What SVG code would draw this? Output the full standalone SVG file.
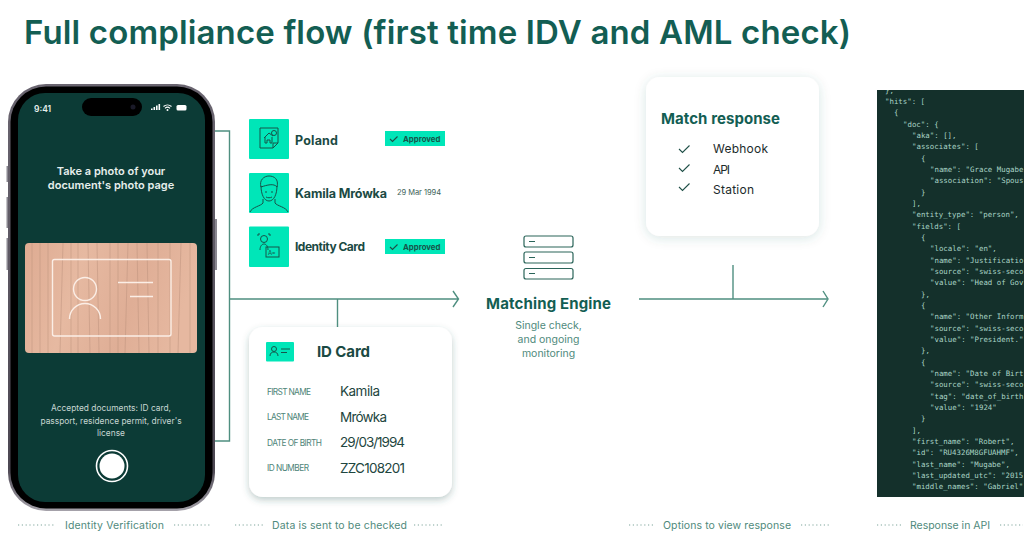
<svg xmlns="http://www.w3.org/2000/svg" width="1024" height="551" viewBox="0 0 1024 551">
<style>
text{font-family:"Inter","Liberation Sans",sans-serif}
.title{font-size:33px;font-weight:600;fill:#135e53}
.h{font-weight:700;fill:#1b4a43}
.g{fill:#00e6b8}
.lnk{fill:none;stroke:#4f8f80;stroke-width:1.4}
.foot{font-size:10.5px;fill:#4f8a7c}
.dots{stroke:#7fa59c;stroke-width:1.2;stroke-dasharray:1.2 2.6;fill:none}
.lab{font-size:8.3px;fill:#4e8478}
.val{font-size:13.5px;fill:#1e4640}
.ic{fill:none;stroke:#17544a;stroke-width:1}
.ok{font-size:7.8px;font-weight:700;fill:#17544a}
.chk{fill:none;stroke:#1f4f47;stroke-width:1.1}
.srv{fill:#fff;stroke:#2a6459;stroke-width:1.2}
.json{font-family:"DejaVu Sans Mono","Liberation Mono",monospace;font-size:7.4px;fill:#a9d4c6}
.ph{fill:#e6eeec;font-size:11px;font-weight:600;text-anchor:middle}
.ph2{fill:#c7d6d2;font-size:8.4px;text-anchor:middle}
.sub{font-size:10.5px;fill:#4f8a7c;text-anchor:middle}
.wood{stroke:#b98f7a;stroke-width:1;opacity:.45;fill:none}
</style>
<defs>
<linearGradient id="woodg" x1="0" y1="0" x2="1" y2="0.2">
<stop offset="0" stop-color="#deab92"/><stop offset=".35" stop-color="#e6b9a1"/><stop offset=".7" stop-color="#dfae96"/><stop offset="1" stop-color="#e6b8a0"/>
</linearGradient>
<linearGradient id="edge" x1="0" y1="0" x2="0" y2="1">
<stop offset="0" stop-color="#6a6570"/><stop offset=".9" stop-color="#4c4752"/><stop offset="1" stop-color="#a5a2aa"/>
</linearGradient>
<filter id="sh" x="-15%" y="-15%" width="130%" height="130%"><feDropShadow dx="0" dy="3" stdDeviation="3.500" flood-color="#2b5d52" flood-opacity=".3"/></filter>
<filter id="sh2" x="-20%" y="-20%" width="140%" height="140%"><feDropShadow dx="0" dy="2" stdDeviation="6" flood-color="#2b5d52" flood-opacity=".16"/></filter>
<clipPath id="jc"><rect x="877" y="90" width="147" height="407"/></clipPath>
<clipPath id="wc"><rect x="25" y="243" width="172" height="110" rx="4"/></clipPath>
</defs>
<rect width="1024" height="551" fill="#fff"/>
<text class="title" x="24" y="44" textLength="827" lengthAdjust="spacing">Full compliance flow (first time IDV and AML check)</text>

<g id="connectors">
<path class="lnk" d="M214 131H229.500V441H215"/>
<path class="lnk" d="M230 299H458M453 291L458.500 299L453 307"/>
<path class="lnk" d="M337.500 299V327"/>
<path class="lnk" d="M639 299H827M823 291L828 299L823 307"/>
<path class="lnk" d="M733 265V299"/>
</g>

<g id="phone">
<rect x="6.500" y="166" width="3" height="16" fill="#8a8790"/>
<rect x="6.500" y="197" width="3" height="31" fill="#8a8790"/>
<rect x="6.500" y="238" width="3" height="32" fill="#8a8790"/>
<rect x="214" y="219" width="3" height="51" fill="#8a8790"/>
<rect x="8" y="84" width="207" height="427" rx="38" fill="url(#edge)"/>
<rect x="10.500" y="86.500" width="202" height="422" rx="35.500" fill="#000"/>
<rect x="18" y="93" width="187" height="409" rx="27" fill="#0c3b36"/>
<rect x="82" y="98" width="60" height="18" rx="9" fill="#000"/>
<circle cx="133" cy="107" r="2.500" fill="#1a1a28"/>
<text x="34" y="112" font-size="8.500" font-weight="600" fill="#e6eeec">9:41</text>
<path d="M151 110h1.600v-1.500H151zM153.500 110h1.600v-3H153.500zM156 110h1.600v-4.500H156zM158.500 110h1.600v-6H158.500z" fill="#fff"/>
<path d="M163.500 106.500a6 6 0 0 1 8 0M165 108.300a3.600 3.600 0 0 1 5 0" fill="none" stroke="#fff" stroke-width="1.100"/><circle cx="167.500" cy="110" r="1" fill="#fff"/>
<rect x="176.500" y="105" width="10" height="5.500" rx="1.500" fill="#fff"/>
<text class="ph" x="111" y="175">Take a photo of your</text>
<text class="ph" x="111" y="189">document's photo page</text>
<rect x="25" y="243" width="172" height="110" rx="4" fill="url(#woodg)"/>
<g clip-path="url(#wc)">
<path class="wood" d="M40 243V353M63 243L60 353M78 243V353M97 243L99 353M128 243L125 353M137 243L139 353M158 243V353M181 243L178 353M48 243V353M110 243V353M170 243V353M32 243V353M71 243V353M88 243L90 353M118 243V353M147 243L149 353M190 243V353"/>
</g>
<rect x="52.500" y="259.500" width="118.500" height="76.500" rx="2" fill="none" stroke="#fbeee6" stroke-width="1.400"/>
<circle cx="85" cy="289" r="11.500" fill="none" stroke="#fbeee6" stroke-width="1.400"/>
<path d="M69.500 319a15.500 15.500 0 0 1 31 0" fill="none" stroke="#fbeee6" stroke-width="1.400"/>
<path d="M118 282.500H153M130 296.500H153" stroke="#fbeee6" stroke-width="1.400"/>
<text class="ph2" x="111" y="411">Accepted documents: ID card,</text>
<text class="ph2" x="111" y="424">passport, residence permit, driver's</text>
<text class="ph2" x="111" y="436">license</text>
<circle cx="112" cy="466" r="15.500" fill="none" stroke="#fff" stroke-width="1.600"/>
<circle cx="112" cy="466" r="12.500" fill="#fff"/>
</g>

<g id="row-poland">
<rect class="g" x="249" y="119" width="40" height="40" rx="1"/>
<path class="ic" d="M260 128h18v15l-5 5h-13zM273 148v-5h5"/>
<path class="ic" d="M264 138l5-5 4 3M265 137v6h2v-3h3v3h2v-6"/>
<circle class="ic" cx="274" cy="133" r="2.500"/>
<text class="h" x="295" y="144.500" font-size="12.500" textLength="43" lengthAdjust="spacing">Poland</text>
<rect class="g" x="385" y="131" width="60" height="15"/>
<path class="chk" d="M390 139l2.500 2.500 5-5"/>
<text class="ok" x="403" y="142">Approved</text>
</g>

<g id="row-name">
<rect class="g" x="249" y="173" width="40" height="40" rx="1"/>
<path class="ic" d="M250 212c2-5 11-6 13-9v-4M275 199v4c2 3 11 4 13 9"/>
<path class="ic" d="M261 186c0 8 3 15 8 15s8-7 8-15"/>
<path class="ic" d="M261 187c-2-7 3-11 8-11s10 3 8 11c-3-4-10-2-16 0zM265 192h2M271 192h2M266 197c2 1 4 1 6 0"/>
<text class="h" x="295" y="198" font-size="12.500" textLength="92" lengthAdjust="spacing">Kamila Mrówka</text>
<text x="397" y="195" font-size="7.500" fill="#3c5f58" textLength="44">29 Mar 1994</text>
</g>

<g id="row-doc">
<rect class="g" x="249" y="226.500" width="40" height="40.500" rx="1"/>
<circle class="ic" cx="264" cy="239" r="3.500"/>
<path class="ic" d="M260 250c0-4 2-6 4-6s4 2 4 6M260 234h-2v2M268 234h2v2"/>
<rect class="ic" x="266" y="247" width="13" height="10"/>
<text x="268" y="254.500" font-size="6" fill="#17544a">A=</text>
<text class="h" x="295" y="251" font-size="12" textLength="70" lengthAdjust="spacing">Identity Card</text>
<rect class="g" x="385" y="239" width="60" height="15"/>
<path class="chk" d="M390 247l2.500 2.500 5-5"/>
<text class="ok" x="403" y="250">Approved</text>
</g>

<g id="id-card">
<rect x="249" y="327" width="203" height="170" rx="14" fill="#fff" filter="url(#sh)"/>
<rect class="g" x="266" y="342" width="28" height="19.500" rx="1"/>
<circle class="ic" cx="274" cy="349" r="2.500" stroke-width="1.200"/>
<path class="ic" d="M270 356c0-3 2-4 4-4s4 1 4 4M281 349h9M281 352.500h6" stroke-width="1.200"/>
<text class="h" x="317" y="357" font-size="15" textLength="53" lengthAdjust="spacing">ID Card</text>
<text class="lab" x="267" y="394.500" textLength="44">FIRST NAME</text>
<text class="lab" x="267" y="420" textLength="42">LAST NAME</text>
<text class="lab" x="267" y="445.500" textLength="55">DATE OF BIRTH</text>
<text class="lab" x="267" y="471" textLength="42">ID NUMBER</text>
<text class="val" x="340" y="396" textLength="40">Kamila</text>
<text class="val" x="340" y="421.500" textLength="47">Mrówka</text>
<text class="val" x="340" y="447" textLength="65">29/03/1994</text>
<text class="val" x="340" y="473" textLength="65">ZZC108201</text>
</g>

<g id="matching-engine">
<rect class="srv" x="524" y="236" width="49" height="11" rx="2"/>
<rect class="srv" x="524" y="252" width="49" height="11" rx="2"/>
<rect class="srv" x="524" y="268.500" width="49" height="10.500" rx="2"/>
<path d="M529 241.500h6M529 257.500h6M529 273.500h6" stroke="#2a6459" stroke-width="1.200"/>
<text x="486" y="309" font-size="15" font-weight="700" fill="#135e53" textLength="125" lengthAdjust="spacing">Matching Engine</text>
<text class="sub" x="548.500" y="329">Single check,</text>
<text class="sub" x="548.500" y="343">and ongoing</text>
<text class="sub" x="548.500" y="357">monitoring</text>
</g>

<g id="match-response">
<rect x="646" y="77" width="173" height="159" rx="14" fill="#fff" filter="url(#sh2)"/>
<text x="661" y="124" font-size="15" font-weight="700" fill="#135e53" textLength="119" lengthAdjust="spacing">Match response</text>
<path class="chk" d="M679 149l3.500 3.500 7-7M679 168l3.500 3.500 7-7M679 187l3.500 3.500 7-7"/>
<text x="713" y="153" font-size="12" fill="#1c2b2b" textLength="55">Webhook</text>
<text x="713" y="174" font-size="12" fill="#1c2b2b" textLength="17">API</text>
<text x="713" y="194" font-size="12" fill="#1c2b2b" textLength="41">Station</text>
</g>

<g id="api-response">
<rect x="877" y="90" width="147" height="407" fill="#14302b"/>
<g clip-path="url(#jc)">
<text class="json" x="885" y="92.700">},</text>
<text class="json" x="885" y="104">"hits": [</text>
<text class="json" x="894" y="115.300">{</text>
<text class="json" x="903" y="126.700">"doc": {</text>
<text class="json" x="912" y="138">"aka": [],</text>
<text class="json" x="912" y="149.300">"associates": [</text>
<text class="json" x="921" y="160.700">{</text>
<text class="json" x="930" y="172">"name": "Grace Mugabe</text>
<text class="json" x="930" y="183.300">"association": "Spous</text>
<text class="json" x="921" y="194.700">}</text>
<text class="json" x="912" y="206">],</text>
<text class="json" x="912" y="217.300">"entity_type": "person",</text>
<text class="json" x="912" y="228.700">"fields": [</text>
<text class="json" x="921" y="240">{</text>
<text class="json" x="930" y="251.300">"locale": "en",</text>
<text class="json" x="930" y="262.700">"name": "Justificatio</text>
<text class="json" x="930" y="274">"source": "swiss-seco</text>
<text class="json" x="930" y="285.300">"value": "Head of Gov</text>
<text class="json" x="921" y="296.700">},</text>
<text class="json" x="921" y="308">{</text>
<text class="json" x="930" y="319.300">"name": "Other Inform</text>
<text class="json" x="930" y="330.700">"source": "swiss-seco</text>
<text class="json" x="930" y="342">"value": "President."</text>
<text class="json" x="921" y="353.300">},</text>
<text class="json" x="921" y="364.700">{</text>
<text class="json" x="930" y="376">"name": "Date of Birt</text>
<text class="json" x="930" y="387.300">"source": "swiss-seco</text>
<text class="json" x="930" y="398.700">"tag": "date_of_birth</text>
<text class="json" x="930" y="410">"value": "1924"</text>
<text class="json" x="921" y="421.300">}</text>
<text class="json" x="912" y="432.700">],</text>
<text class="json" x="912" y="444">"first_name": "Robert",</text>
<text class="json" x="912" y="455.300">"id": "RU4326M8GFUAHMF",</text>
<text class="json" x="912" y="466.700">"last_name": "Mugabe",</text>
<text class="json" x="912" y="478">"last_updated_utc": "2015</text>
<text class="json" x="912" y="489.300">"middle_names": "Gabriel"</text>
</g>
</g>

<g id="footer">
<path class="dots" d="M18 525H55M174 525H212M235 525H265M414 525H442M629 525H655M801 525H830M877 525H902M1000 525H1023"/>
<text class="foot" x="65" y="529" textLength="99">Identity Verification</text>
<text class="foot" x="272" y="529" textLength="135">Data is sent to be checked</text>
<text class="foot" x="663" y="529" textLength="128">Options to view response</text>
<text class="foot" x="910" y="529" textLength="80">Response in API</text>
</g>
</svg>
